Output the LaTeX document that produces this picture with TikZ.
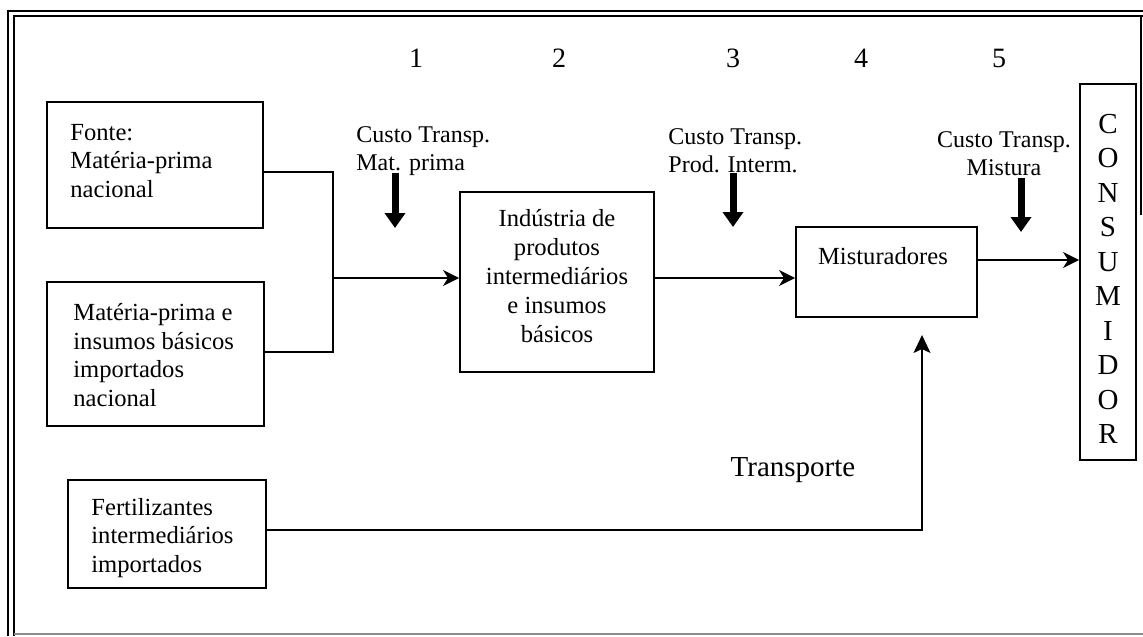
\documentclass[tikz,border=0pt]{standalone}
\usepackage{fontspec}
\setmainfont{Liberation Serif}
\usetikzlibrary{arrows.meta}
\begin{document}
\begin{tikzpicture}[x=0.5pt,y=-0.5pt,
  box/.style={draw, line width=1pt, inner sep=0pt},
  boxtext/.style={inner sep=0pt, font=\fontsize{12.3pt}{14.4pt}\selectfont},
  lbl/.style={inner sep=0pt, font=\fontsize{12pt}{14pt}\selectfont},
  num/.style={inner sep=0pt, font=\fontsize{14pt}{16pt}\selectfont},
  conn/.style={line width=0.8pt},
  flow/.style={conn, -{Stealth[length=8pt,width=8pt,inset=2.5pt]}},
  cost/.style={line width=3.5pt, -{Triangle[length=7.5pt,width=10pt]}},
  frame/.style={line width=1pt}
]
\useasboundingbox (0,0) rectangle (1143,636);

% outer frame
\draw[frame] (8,636) -- (8,11) -- (1143,11);
\draw[frame] (14,636) -- (14,16) -- (1143,16);
\draw[line width=0.8pt] (1141,16) -- (1141,215);
\draw[line width=0.8pt, black!45] (14,634) -- (1143,634);

% stage numbers
\node[num] (n1) at (416,58) {1};
\node[num] (n2) at (559,58) {2};
\node[num] (n3) at (733,58) {3};
\node[num] (n4) at (861,58) {4};
\node[num] (n5) at (999,58) {5};

% boxes
\node[box, minimum width=108pt, minimum height=63pt] (A) at (155,165) {};
\node[boxtext, anchor=west, align=left] (At) at (70,161) {Fonte:\\Matéria-prima\\nacional};

\node[box, minimum width=108.5pt, minimum height=72pt] (B) at (155.5,354) {};
\node[boxtext, anchor=west, align=left] (Bt) at (73,355) {Matéria-prima e\\insumos básicos\\importados\\nacional};

\node[box, minimum width=99pt, minimum height=54pt] (C) at (167,534) {};
\node[boxtext, anchor=west, align=left] (Ct) at (91,538) {Fertilizantes\\intermediários\\importados};

\node[box, minimum width=97pt, minimum height=90pt] (D) at (557,282) {};
\node[boxtext, align=center] (Dt) at (557,276) {Indústria de\\produtos\\intermediários\\e insumos\\básicos};

\node[box, minimum width=90.5pt, minimum height=45pt] (E) at (886.5,272) {};
\node[boxtext] (Et) at (883,256) {Misturadores};

\node[box, minimum width=28pt, minimum height=188pt] (F) at (1108,272) {};
\node[inner sep=0pt, align=center, font=\fontsize{14.5pt}{17.25pt}\selectfont] (Ft) at (1108,279)
  {C\\O\\N\\S\\U\\M\\I\\D\\O\\R};

% cost labels
\node[lbl, anchor=west, align=left] (L1) at (356,151) {Custo Transp.\\Mat. prima};
\node[lbl, anchor=west, align=left] (L2) at (668,151) {Custo Transp.\\Prod. Interm.};
\node[lbl, align=center] (L3) at (1004,154) {Custo Transp.\\Mistura};

\node[inner sep=0pt, font=\fontsize{14.5pt}{17pt}\selectfont] (T) at (793,470) {Transporte};

% cost arrows
\coordinate (c1s) at (395,173); \coordinate (c1e) at (395,228);
\coordinate (c2s) at (733,173); \coordinate (c2e) at (733,227);
\coordinate (c3s) at (1021,178); \coordinate (c3e) at (1021,232);
\draw[cost] (c1s) -- (c1e);
\draw[cost] (c2s) -- (c2e);
\draw[cost] (c3s) -- (c3e);

% connectors
\coordinate (j1) at (333,172);
\coordinate (j2) at (333,352);
\coordinate (j3) at (333,278);
\coordinate (j4) at (720,278);
\coordinate (j5) at (1030,260);
\coordinate (j6) at (922,530);
\coordinate (j7) at (922,335);

\draw[conn] (A.east |- j1) -- (j1) -- (j2) -- (B.east |- j2);
\draw[flow] (j3) -- (D.west |- j3);
\draw[flow] (D.east |- j4) -- (E.west |- j4);
\draw[flow] (E.east |- j5) -- (F.west |- j5);
\draw[conn, -{Stealth[length=9pt,width=8.5pt,inset=2pt]}] (C.east |- j6) -- (j6) -- (j7);
\end{tikzpicture}
\end{document}
